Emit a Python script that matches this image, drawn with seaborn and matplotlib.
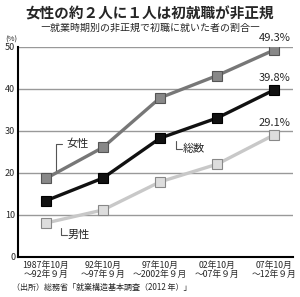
import matplotlib
matplotlib.use("Agg")
import matplotlib.pyplot as plt
import seaborn as sns
import pandas as pd

periods = ["1987年10月\n～92年９月", "92年10月\n～97年９月", "97年10月\n～2002年９月",
           "02年10月\n～07年９月", "07年10月\n～12年９月"]
women = [18.7, 26.1, 37.9, 43.2, 49.3]
total = [13.4, 18.8, 28.3, 33.1, 39.8]
men = [8.1, 11.2, 17.9, 22.1, 29.1]
yticks = [0, 10, 20, 30, 40, 50]

sns.set_theme(style="white")
plt.rcParams['font.family'] = ['Noto Sans CJK JP', 'DejaVu Sans']

fig = plt.figure(figsize=(3.0, 2.97), dpi=100)
ax = fig.add_axes([0.06, 0.1347, 0.917, 0.7071])

x = list(range(len(periods)))
series = [
    (women, "#777777", "#555555", "#888888"),
    (total, "#111111", "#000000", "#111111"),
    (men, "#c8c8c8", "#888888", "#dddddd"),
]
for vals, lc, ec, fc in series:
    df = pd.DataFrame({"x": x, "y": vals})
    sns.lineplot(data=df, x="x", y="y", ax=ax, color=lc, lw=2.4,
                 marker="s", markersize=7, markerfacecolor=fc,
                 markeredgecolor=ec, markeredgewidth=0.8, zorder=3)

ax.set_xlim(-0.49, 4.33)
ax.set_ylim(0, 50)
ax.set_yticks(yticks)
ax.set_yticklabels([str(v) for v in yticks], fontsize=6.5)
ax.set_xticks(x)
ax.set_xticklabels(periods, fontsize=6.3, linespacing=1.0)
ax.set_xlabel("")
ax.set_ylabel("")
for v in yticks[1:]:
    ax.axhline(v, color="#999999", lw=1.0, zorder=1)
for s in ["top", "right"]:
    ax.spines[s].set_visible(False)
ax.spines["left"].set_color("black")
ax.spines["left"].set_linewidth(1.5)
ax.spines["bottom"].set_color("black")
ax.spines["bottom"].set_linewidth(1.5)
ax.tick_params(axis="x", direction="in", length=5, width=1.5, color="black", pad=3)
ax.tick_params(axis="y", length=0, pad=2)

# end labels
ax.annotate("49.3%", (4, women[4]), xytext=(0, 5), textcoords="offset points",
            ha="center", va="bottom", fontsize=8)
ax.annotate("39.8%", (4, total[4]), xytext=(0, 5), textcoords="offset points",
            ha="center", va="bottom", fontsize=8)
ax.annotate("29.1%", (4, men[4]), xytext=(0, 5), textcoords="offset points",
            ha="center", va="bottom", fontsize=8)

# series labels with connector brackets
ax.plot([0.18, 0.18, 0.28], [20.2, 27.0, 27.0], color="#555555", lw=0.8)
ax.text(0.35, 27.0, "女性", fontsize=8, va="center", ha="left")
ax.plot([2.28, 2.28, 2.38], [27.6, 25.8, 25.8], color="#555555", lw=0.8)
ax.text(2.4, 25.8, "総数", fontsize=8, va="center", ha="left")
ax.plot([0.26, 0.26, 0.36], [7.0, 5.3, 5.3], color="#555555", lw=0.8)
ax.text(0.38, 5.3, "男性", fontsize=8, va="center", ha="left")

fig.text(0.5, 0.955, "女性の約２人に１人は初就職が非正規", ha="center", va="center",
         fontsize=10.5, fontweight="bold")
fig.text(0.5, 0.905, "―就業時期別の非正規で初職に就いた者の割合―", ha="center",
         va="center", fontsize=7.2)
fig.text(0.037, 0.868, "(%)", ha="center", va="center", fontsize=5.5)
fig.text(0.04, 0.033, "（出所）総務省「就業構造基本調査（2012 年）」", ha="left",
         va="center", fontsize=5.8)

fig.savefig("out.png", dpi=100)
